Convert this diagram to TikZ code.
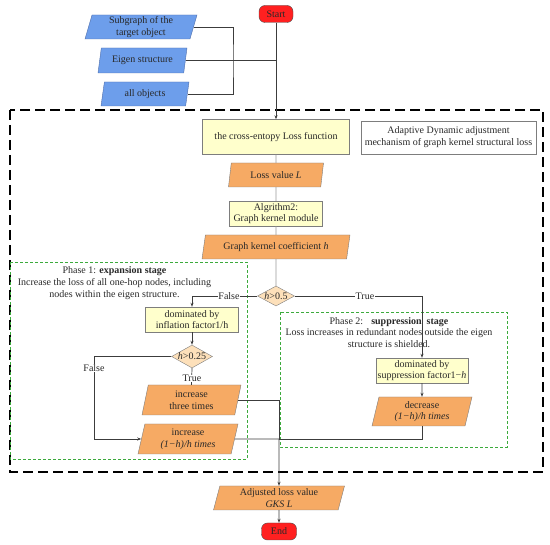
\documentclass[tikz,border=0pt]{standalone}
\usepackage{fontspec}
\setmainfont{Liberation Serif}
\usetikzlibrary{shapes.geometric,arrows.meta}
\definecolor{blueF}{RGB}{109,158,235}
\definecolor{blueE}{RGB}{80,110,170}
\definecolor{orangeF}{RGB}{246,170,100}
\definecolor{yellowF}{RGB}{255,255,204}
\definecolor{peachF}{RGB}{253,224,186}
\definecolor{redF}{RGB}{255,32,32}
\definecolor{greenD}{RGB}{60,170,60}
\definecolor{lineC}{RGB}{60,60,60}
\definecolor{edgeC}{RGB}{125,125,125}
\definecolor{txtC}{RGB}{40,40,40}
\begin{document}
\begin{tikzpicture}[x=1pt,y=-1pt,
  font=\fontsize{10}{11.8}\selectfont, text=txtC,
  para/.style={trapezium, trapezium left angle=73, trapezium right angle=107,
    trapezium stretches body, draw=edgeC, align=center, inner xsep=1pt, inner ysep=1pt},
  bluepara/.style={para, fill=blueF, draw=blueE},
  orangepara/.style={para, fill=orangeF},
  ybox/.style={rectangle, draw=edgeC, fill=yellowF, align=center, inner sep=1pt},
  dia/.style={diamond, draw=edgeC, fill=peachF, inner sep=0pt, aspect=1.8},
  term/.style={rectangle, rounded corners=6pt, draw=black!70, fill=redF, inner sep=1pt},
  ln/.style={draw=lineC, line width=0.7pt},
  gln/.style={draw=gray!80, line width=0.7pt},
  arr/.style={ln, -{Stealth[length=4pt,width=3pt]}},
  lbl/.style={fill=white, inner sep=0.5pt},
  bigdash/.style={draw=black, line width=2.4pt, dash pattern=on 10pt off 5pt},
  greendash/.style={draw=greenD, line width=0.8pt, dash pattern=on 3pt off 2pt}
]
\useasboundingbox (0,0) rectangle (550,545);

% frames
\draw[bigdash] (10,110) rectangle (543,472);
\draw[greendash] (10,262) rectangle (247,459);
\draw[greendash] (280,312) rectangle (507,447);

% nodes
\node[term, minimum width=34pt, minimum height=17pt] (start) at (276,14) {Start};
\node[bluepara, minimum width=112pt, minimum height=24pt] (sub) at (141,27) {Subgraph of the\\target object};
\node[bluepara, minimum width=89pt, minimum height=25pt] (eig) at (142.5,60.5) {Eigen structure};
\node[bluepara, minimum width=88pt, minimum height=24pt] (allo) at (145,94) {all objects};

\node[ybox, minimum width=147pt, minimum height=35pt] (ce) at (276,137) {the cross-entopy Loss function};
\node[rectangle, draw=edgeC, fill=white, align=center, minimum width=175pt, minimum height=33pt, inner sep=1pt] (adapt) at (448.5,137.5) {Adaptive Dynamic adjustment\\mechanism of graph kernel structural loss};
\node[orangepara, minimum width=95pt, minimum height=24pt] (loss) at (276,175) {Loss value \textit{L}};
\node[ybox, minimum width=93pt, minimum height=25pt] (alg) at (276,213.5) {Algrithm2:\\Graph kernel module};
\node[orangepara, minimum width=148pt, minimum height=24pt] (ghk) at (276,247) {Graph kernel coefficient \textit{h}};
\node[dia, minimum width=37pt, minimum height=20pt] (d1) at (276,296) {\textit{h}>0.5};

\node[align=center, inner sep=0pt] (ph1) at (114.5,283) {Phase 1: \textbf{expansion stage}\\Increase the loss of all one-hop nodes, including\\nodes within the eigen structure.};
\node[align=center, inner sep=0pt] (ph2) at (389,332.5) {Phase 2:\hspace{0.8em}\textbf{suppression\hspace{0.5em}stage}\\Loss increases in redundant nodes outside the eigen\\structure is shielded.\hspace{1.5em}};

\node[ybox, minimum width=93pt, minimum height=25pt] (dinf) at (192,319.5) {dominated by\\inflation factor1/h};
\node[dia, minimum width=39pt, minimum height=23pt] (d2) at (192,356.5) {\textit{h}>0.25};
\node[orangepara, minimum width=99pt, minimum height=30pt] (inc3) at (191.5,400) {increase\\three times};
\node[orangepara, minimum width=100pt, minimum height=30pt] (incr) at (188,439) {increase\\\textit{(1−h)/h times}};

\node[ybox, minimum width=92pt, minimum height=25pt] (dsup) at (422,370.5) {dominated by\\suppression factor1−\textit{h}};
\node[orangepara, minimum width=100pt, minimum height=29pt] (dec) at (422,411.5) {decrease\\\textit{(1−h)/h times}};

\node[orangepara, minimum width=131pt, minimum height=24pt] (adj) at (279,498) {Adjusted loss value\\\textit{GKS L}};
\node[term, minimum width=35pt, minimum height=17pt] (endn) at (279,531.5) {End};

% helper coordinates
\coordinate (bx) at (233,61);
\coordinate (mj) at (279,439);
\coordinate (f2) at (94,356.5);

% connectors
\draw[arr] (start.south) -- (ce.north);
\draw[ln] (eig.east) -- (eig.east -| start.south);
\draw[ln] (sub.east) -| (bx) |- (allo.east);

\draw[gln] (ce.south) -- (loss.north);
\draw[gln] (loss.south) -- (alg.north);
\draw[gln] (alg.south) -- (ghk.north);
\draw[gln] (ghk.south) -- (d1.north);

\draw[arr] (d1.west) -| (dinf.north);
\node[lbl] (lf1) at (229,296) {False};
\draw[arr] (d1.east) -| (dsup.north);
\node[lbl] (lt1) at (365,296) {True};

\draw[arr] (dinf.south) -- (d2.north);
\draw[arr] (d2.west) -- (f2) |- (incr.west);
\node[lbl] (lf2) at (94,368) {False};
\draw[ln] (d2.south) -- (inc3.north);
\node[lbl] (lt2) at (192,378.5) {True};

\draw[arr] (dsup.south) -- (dec.north);

\draw[ln] (inc3.east) -| (mj);
\draw[ln] (incr.east) -- (mj);
\draw[ln] (dec.south) |- (mj);
\draw[arr] (mj) -- (adj.north);
\draw[arr] (adj.south) -- (endn.north);
\end{tikzpicture}
\end{document}
